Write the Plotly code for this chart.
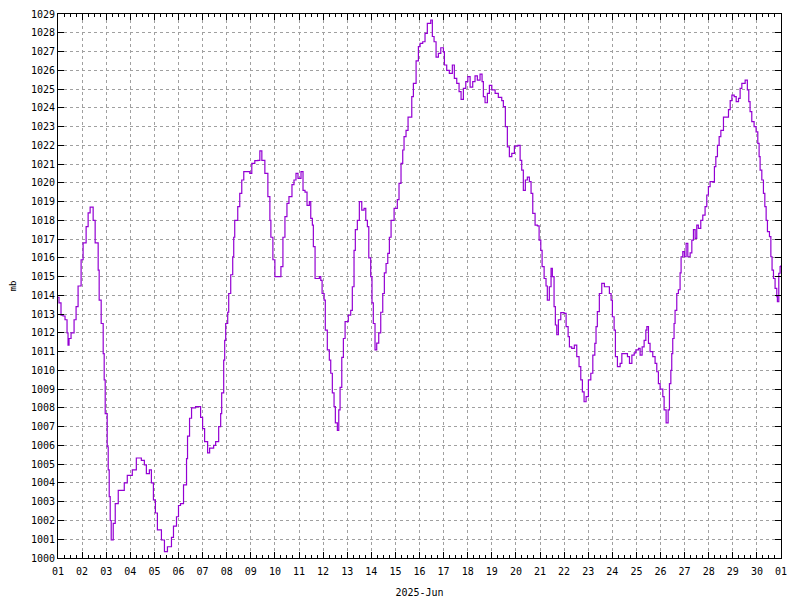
import pandas as pd
import plotly.graph_objects as go

# Hours since 2025-06-01 00:00 and pressure (mb)
hours = [
    0, 1, 3, 5, 7, 9, 10, 11, 13, 16, 18, 20, 23, 25, 28, 30, 32, 35, 37, 40,
    41, 43, 45, 46, 47, 49, 50, 51, 52, 53, 55, 57, 60, 63, 66, 69, 74, 78, 83, 86,
    88, 91, 93, 95, 97, 99, 103, 106, 109, 113, 115, 118, 120, 122,
    125, 128, 129, 131, 133, 137, 140, 142, 144, 146, 149, 151, 155, 157, 160, 162,
    163, 165, 166, 167, 169, 170, 172, 174, 175, 176, 179, 181, 183, 185, 188, 191,
    193, 196, 199, 201, 203, 206, 209, 211, 212, 214, 216, 219, 222, 224, 226, 228,
    230, 233, 235, 237, 239, 242, 244, 246, 248,
    250.3, 251.7, 253.3, 254.3, 256, 260.3, 261.7, 263, 265, 266.2, 268.2, 270.2,
    271.6, 273.2, 274.9, 276.2, 278.2, 279.6, 280.9, 282.6, 284.2, 285.9, 289.1,
    291.5, 293.1, 294.8, 296.1, 298.1, 300.1, 302.5, 304.8, 306.5, 308.1, 309.5,
    311.4, 312.7, 314, 315.7, 317.4, 319.4, 321.4, 323.4, 325, 326.7, 328.4, 330,
    331.7, 334.7, 337.9, 339.6, 341.6, 343.3, 344.6, 346.6, 348.6, 352.3, 353.9,
    356.6, 358.9,
    360.6, 363.2, 365.5, 367.8, 371.2, 372.8, 374.5, 376.5, 378.8, 381.2, 383.8,
    384.8, 387.1, 389.7, 392.7, 394.7, 397.1, 399.4, 401.4, 403.7, 406.1, 408.1,
    410.4, 413, 415.3, 417.6, 420.3, 422.3, 423.6, 425.3, 427.6, 429.6, 432, 435.3,
    438.5, 441.9, 443.5, 445.5, 447.5, 449.5, 451.9, 454.5, 457.9, 460.2, 461.8,
    463.4, 465.4, 467.4, 469.4, 471.1, 472.8, 475.1, 477.4, 479.1, 480.8, 482.1,
    484.1, 486, 487.3, 489.3, 491, 492.3, 494, 495.3, 496.7, 498.3, 500.7, 504,
    506, 508, 509.3, 511.6, 514.2, 516.6, 518.9, 520.6, 522.2, 523.9, 525.9, 528.2,
    530.6, 532.6, 534.6, 535.8, 537.1, 539.1, 541.5, 544.1, 547.5, 549.1, 550.8,
    552.1, 553.8, 555.1, 557.1, 559.8, 561.5, 564.8, 567.1, 569.1, 571.5, 573.8,
    575.5, 578.1, 579.7, 581.7, 583.7, 585.4, 586.4, 588, 589.6, 592.3, 594.6,
    596.3, 597.9, 599.6, 602.3, 603.6, 605.6, 607.6, 608.9, 610.3, 611.2, 612.2,
    613.5, 614.5, 616.2, 617.8, 619.5, 620.5, 622.2, 623.8, 625.5, 627.2, 629.5,
    631.2, 632.8, 634.5, 636.1, 637.7, 640.1, 642.1, 644.4, 646.1, 647.7, 649.4,
    652.7, 653.7, 655.1, 656.7, 658.4, 660.1, 662.7, 666.1, 667.7, 669.4, 671.1,
    673.4, 675.4, 677.7, 679.3, 681, 684.3, 686.5, 687.9, 689.2, 690.9, 693.2,
    695.2, 696.9, 698.2, 699.2, 700.9, 702.5, 703.9, 705.2, 706.5, 708.5, 709.9,
    711.1, 712.5, 714.1, 715.8, 716.4, 717.8, 719.1, 720,
]
pressure = [
    1013.9, 1013.6, 1012.95, 1012.9, 1012.7, 1012.0, 1011.35, 1011.7, 1012.0, 1012.7,
    1013.4, 1014.5, 1015.9, 1016.8, 1017.66, 1018.4, 1018.7, 1018.0, 1016.8, 1015.35,
    1013.75, 1012.5, 1010.9, 1009.5, 1007.7, 1005.93, 1004.7, 1003.27, 1002.0, 1000.96,
    1001.85, 1002.9, 1003.6, 1003.6, 1004.0, 1004.4, 1004.7, 1005.33, 1005.2, 1004.96,
    1004.5, 1004.7, 1004.0, 1003.1, 1002.4, 1001.5, 1000.96, 1000.34, 1000.6, 1001.1,
    1001.7, 1002.2, 1002.8, 1002.9,
    1003.9, 1005.3, 1006.5, 1007.45, 1008.0, 1008.07, 1008.07, 1007.5, 1006.9, 1006.2,
    1005.6, 1005.86, 1006.0, 1006.2, 1007.0, 1007.7, 1008.8, 1010.55, 1011.6, 1012.5,
    1013.1, 1014.1, 1015.1, 1016.06, 1017.1, 1018.0, 1018.73, 1019.44, 1020.15, 1020.6,
    1020.6, 1020.5, 1021.04, 1021.18, 1021.2, 1021.7, 1021.2, 1020.5, 1019.26, 1018.0,
    1017.1, 1015.9, 1015.0, 1015.0, 1015.53, 1017.1, 1018.2, 1018.9, 1019.26, 1019.9,
    1020.15, 1020.5, 1020.24, 1020.6, 1019.6, 1019.5, 1018.8,
    1019.0, 1018.1, 1017.75, 1016.6, 1014.9, 1015.0, 1014.8, 1014.1, 1013.75, 1012.15,
    1011.1, 1010.55, 1009.85, 1008.8, 1008.07, 1007.2, 1006.8, 1007.9, 1009.1, 1010.7,
    1011.7, 1012.6, 1012.95, 1013.2, 1014.46, 1016.4, 1017.5, 1018.0, 1019.0, 1018.55,
    1018.64, 1018.0, 1017.66, 1016.0, 1015.0, 1013.6, 1012.5, 1011.1, 1011.45, 1012.0,
    1013.1, 1014.1, 1015.2, 1015.7, 1016.24, 1017.1, 1018.0, 1018.64, 1019.1, 1019.97,
    1021.04, 1021.75, 1022.46, 1022.8, 1023.5, 1024.6, 1025.3, 1026.5, 1027.26,
    1027.43, 1027.52, 1027.97, 1028.5, 1028.68, 1027.8, 1027.52, 1026.7, 1026.9, 1027.2,
    1026.99, 1026.28, 1026.0, 1025.84, 1026.28, 1025.57, 1025.3, 1024.86, 1024.45, 1025.04,
    1025.4, 1025.66, 1025.1, 1025.4, 1025.7, 1025.48, 1025.8, 1025.4, 1024.6, 1024.27,
    1024.77, 1025.2, 1024.95, 1024.77, 1024.56, 1024.38, 1024.06, 1023.0, 1021.92, 1021.4,
    1021.57, 1021.96, 1022.0, 1021.2, 1020.68, 1019.6, 1020.15, 1020.3, 1020.06, 1019.44,
    1018.37, 1017.75, 1017.7, 1016.95, 1016.4, 1015.53, 1014.9, 1014.5, 1013.75, 1014.46,
    1015.44, 1015.0, 1013.4, 1012.42, 1011.9, 1012.7, 1013.08, 1013.04, 1012.33, 1011.8,
    1011.26, 1011.18, 1011.35, 1010.73, 1010.2, 1009.5, 1008.86, 1008.33, 1008.6, 1009.5,
    1009.85, 1010.82, 1011.44, 1012.33, 1013.13, 1014.1, 1014.64, 1014.46, 1014.46, 1014.1,
    1013.75, 1012.86, 1012.15, 1010.73, 1010.2, 1010.38, 1010.9, 1010.9, 1010.73, 1010.38,
    1010.82, 1010.94, 1011.1, 1011.18, 1010.82, 1011.26, 1011.6, 1012.15, 1012.33, 1011.44,
    1011.0, 1010.73, 1010.38, 1009.93, 1009.3, 1009.0, 1008.6, 1007.9, 1007.2, 1007.9,
    1009.3, 1010.0, 1010.9, 1011.7, 1012.5, 1013.2, 1014.1, 1014.3, 1015.2, 1016.06,
    1016.33, 1016.06, 1016.77, 1016.06, 1016.27, 1016.95, 1017.5, 1017.04, 1017.75, 1017.57,
    1018.0, 1018.28, 1018.73, 1019.35, 1019.8, 1020.06, 1020.03, 1020.86, 1021.4, 1022.0,
    1022.46, 1022.8, 1023.5, 1023.5, 1023.9, 1024.38, 1024.68, 1024.6, 1024.33, 1024.5,
    1025.04, 1025.3, 1025.48, 1024.95, 1024.33, 1023.8, 1023.26, 1023.0, 1022.72, 1022.1,
    1021.4, 1020.68, 1020.15, 1019.44, 1018.73, 1018.0, 1017.4, 1017.13, 1016.06, 1015.35,
    1014.9, 1014.37, 1013.93, 1013.66, 1015.18, 1015.53, 1015.6,
]

start = pd.Timestamp("2025-06-01 00:00")
end = pd.Timestamp("2025-07-01 00:00")
times = [start + pd.Timedelta(hours=h) for h in hours]

FONT = "DejaVu Sans Mono"
GRID = "#a0a0a0"

fig = go.Figure()
fig.add_trace(go.Scatter(
    x=times, y=pressure, mode="lines",
    line=dict(color="#9400d3", width=1.2, shape="hv"),
    hoverinfo="skip", showlegend=False,
))

fig.update_layout(
    width=784, height=592,
    margin=dict(l=50, r=11, t=6, b=42, autoexpand=False),
    paper_bgcolor="white", plot_bgcolor="white",
    font=dict(family=FONT, size=10, color="black"),
)
fig.update_xaxes(
    range=[start, end], type="date",
    dtick=86400000, tick0=start, tickformat="%d",
    ticks="inside", ticklen=6, tickcolor="black", tickwidth=1,
    minor=dict(dtick=6 * 3600000, ticks="inside", ticklen=3, tickcolor="black", showgrid=False),
    showline=True, linecolor="black", linewidth=1, mirror="ticks",
    showgrid=True, gridcolor=GRID, griddash="3px,3px", gridwidth=1,
    zeroline=False, automargin=False,
    ticklabelstandoff=4,
    title=dict(text="2025-Jun", font=dict(family=FONT, size=10), standoff=12),
    tickfont=dict(family=FONT, size=10),
)
fig.update_yaxes(
    range=[1000, 1029], dtick=1, tick0=1000,
    ticks="inside", ticklen=6, tickcolor="black", tickwidth=1,
    showline=True, linecolor="black", linewidth=1, mirror="ticks",
    showgrid=True, gridcolor=GRID, griddash="3px,3px", gridwidth=1,
    zeroline=False, automargin=False,
    title=dict(text="mb", font=dict(family=FONT, size=9), standoff=12),
    tickfont=dict(family=FONT, size=10),
)

fig.write_html("out.html")
